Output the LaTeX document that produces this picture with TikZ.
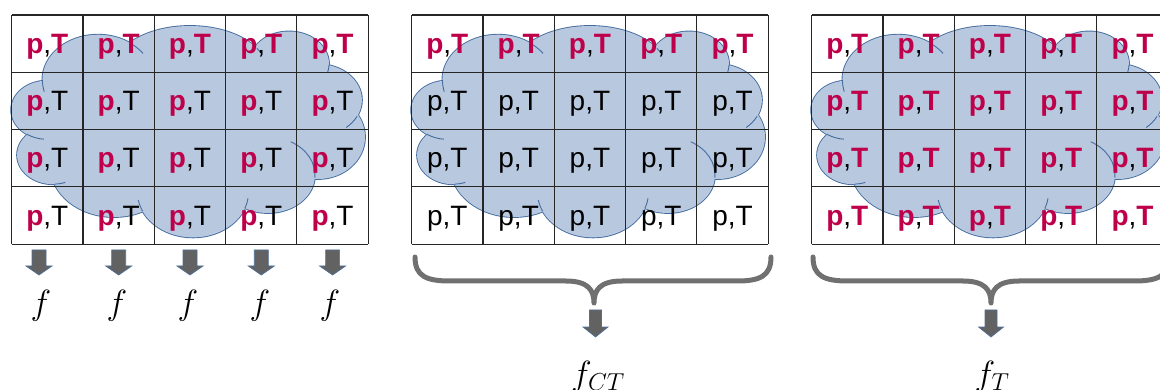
\RequirePackage{fix-cm}
\documentclass[tikz,border=0pt]{standalone}
\usepackage{fontspec}
\setmainfont{Liberation Sans}

\definecolor{crim}{RGB}{190,0,75}
\definecolor{cloudfill}{RGB}{183,200,223}
\definecolor{cloudline}{RGB}{68,108,160}
\definecolor{bracegray}{RGB}{112,112,112}
\definecolor{arrowgray}{RGB}{98,98,98}
\definecolor{arrowedge}{RGB}{80,112,152}

\newcommand\hp{\textcolor{crim}{\bfseries p}}
\newcommand\hT{\textcolor{crim}{\bfseries T}}

% cloud = union of puffs: centre x/centre y/x radius/y radius
\newcommand\cloudpuffs{98/80/55.6/45.3, 190/72/78/46, 289/64/40/32.5, 318/100/43.9/35.9,
  318/137/47/42, 268/175/47/38, 193/192/55.6/45.4, 114/166/63.6/51, 53/155/35.9/29.2, 47/110/35.8/29.3}
% short inner arcs where two puffs meet: puff/start angle/end angle
\newcommand\cloudtails{98/80/55.6/45.3/-55/-36, 190/72/78/46/-31/-22, 289/64/40/32.5/2/14,
  318/100/43.9/35.9/27/50, 268/175/47/38/-61/4, 193/192/55.6/45.4/21/8, 193/192/55.6/45.4/155/170,
  53/155/35.9/29.2/87/70, 47/110/35.8/29.3/124/95, 98/80/55.6/45.3/180/165}

\begin{document}
\begin{tikzpicture}[x=1pt,y=-1pt,
  cell/.style={anchor=base,inner sep=0pt,font=\fontsize{28}{30}\selectfont},
  flabel/.style={inner sep=0pt,font=\fontsize{35}{40}\selectfont},
  gridline/.style={line width=1.1pt,black!85},
  cloudtail/.style={draw=cloudline,line width=0.9pt},
  blockarr/.style={fill=arrowgray,draw=arrowedge,line width=0.7pt},
  brace/.style={draw=bracegray,line width=5pt,line cap=round,line join=round}]
\useasboundingbox (0,0) rectangle (1160,390);
%clouds
\foreach \gx in {0,400,800}{
  \begin{scope}[shift={(\gx,0)}]
    \foreach \cx/\cy/\rx/\ry in \cloudpuffs
      \draw[cloudline,line width=1.8pt] (\cx,\cy) ellipse[x radius=\rx,y radius=\ry];
    \foreach \cx/\cy/\rx/\ry in \cloudpuffs
      \fill[cloudfill] (\cx,\cy) ellipse[x radius=\rx,y radius=\ry];
    \fill[cloudfill] (98,80)--(190,72)--(289,64)--(318,100)--(318,137)--(268,175)
      --(193,192)--(114,166)--(53,155)--(47,110)--cycle;
    \foreach \cx/\cy/\rx/\ry/\ta/\tb in \cloudtails
      \draw[cloudtail] (\cx,\cy) ++({\ta}:{\rx} and {\ry}) arc[start angle=\ta,end angle=\tb,x radius=\rx,y radius=\ry];
  \end{scope}
}
%tables
\foreach \gx in {0,400,800}{
  \foreach \i in {0,...,5} \draw[gridline] (\gx+11.7+\i*71.3,15)--++(0,229.2);
  \foreach \j in {0,...,4} \draw[gridline] (\gx+11.7,15+\j*57.3)--++(356.5,0);
}
%left table
\foreach \c in {1,...,5}{
  \node[cell] (a1\c) at (-23.95+\c*71.3,53.15) {\hp,\hT};
  \foreach \r in {2,3,4} \node[cell] (a\r\c) at (-23.95+\c*71.3,-4.15+\r*57.3) {\hp,T};
}
%middle table
\foreach \c in {1,...,5}{
  \node[cell] (b1\c) at (376.05+\c*71.3,53.15) {\hp,\hT};
  \foreach \r in {2,3,4} \node[cell] (b\r\c) at (376.05+\c*71.3,-4.15+\r*57.3) {p,T};
}
%right table
\foreach \c in {1,...,5}{
  \foreach \r in {1,...,4} \node[cell] (c\r\c) at (776.05+\c*71.3,-4.15+\r*57.3) {\hp,\hT};
}
%one f per column
\foreach \x in {39,118.7,190,261.3,332.6}{
  \filldraw[blockarr] (\x-7,250)--++(14,0)--++(0,16)--++(6,0)--(\x,275)--(\x-13,266)--++(6,0)--cycle;
}
\foreach \x [count=\i] in {41,117,188,260,330} \node[flabel] (f\i) at (\x,305.5) {$f$};
%braces
\draw[brace] (415,257) .. controls (415,276) and (426,281) .. (450,281)--(566,281)
  .. controls (588,281) and (594,290) .. (594,303) .. controls (594,290) and (600,281) .. (622,281)
  --(737,281) .. controls (760,281) and (771,276) .. (771,257);
\draw[brace] (813,257) .. controls (813,276) and (824,281) .. (848,281)--(963,281)
  .. controls (985,281) and (991,290) .. (991,303) .. controls (991,290) and (997,281) .. (1019,281)
  --(1134,281) .. controls (1158,281) and (1169,276) .. (1169,257);
\foreach \x in {595.5,991}{
  \filldraw[blockarr] (\x-6,310)--++(12,0)--++(0,17)--++(6.5,0)--(\x,337)--(\x-12.5,327)--++(6.5,0)--cycle;
}
\node[flabel,anchor=base] (fct) at (598,385) {$f_{CT}$};
\node[flabel,anchor=base] (ft) at (992,385) {$f_{T}$};
\end{tikzpicture}
\end{document}
